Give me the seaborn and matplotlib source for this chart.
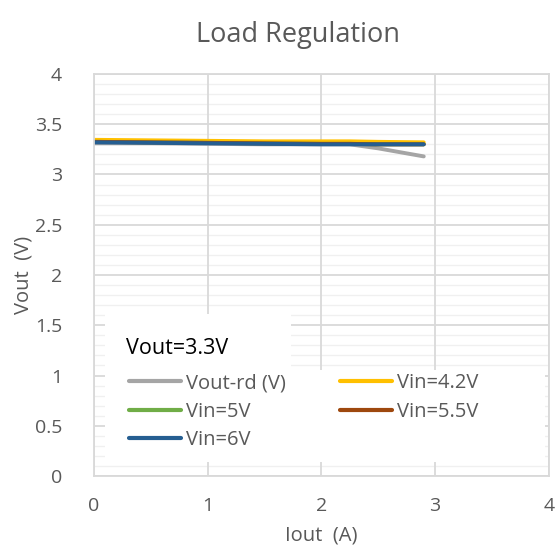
import matplotlib
matplotlib.use("Agg")
import matplotlib.pyplot as plt
import seaborn as sns
import pandas as pd
from matplotlib.ticker import MultipleLocator
from matplotlib.patches import Rectangle

iout = [0, 0.5, 1.0, 1.5, 2.0, 2.25, 2.5, 2.9]
vout_rd = [3.31, 3.31, 3.305, 3.30, 3.30, 3.30, 3.26, 3.18]
vin_42 = [3.345, 3.34, 3.335, 3.33, 3.33, 3.33, 3.325, 3.32]
vin_5 = [3.325, 3.32, 3.315, 3.31, 3.305, 3.305, 3.30, 3.30]
vin_55 = [3.325, 3.32, 3.315, 3.31, 3.305, 3.305, 3.30, 3.30]
vin_6 = [3.32, 3.315, 3.31, 3.305, 3.30, 3.30, 3.30, 3.30]
series_names = ["Vout-rd (V)", "Vin=4.2V", "Vin=5V", "Vin=5.5V", "Vin=6V"]
series_vals = [vout_rd, vin_42, vin_5, vin_55, vin_6]
colors = ["#A5A5A5", "#FFC000", "#70AD47", "#9E480E", "#255E91"]
x_ticks = [0, 1, 2, 3, 4]
y_ticks = [0, 0.5, 1, 1.5, 2, 2.5, 3, 3.5, 4]
y_tick_labels = ["0", "0.5", "1", "1.5", "2", "2.5", "3", "3.5", "4"]

rows = []
for name, vals in zip(series_names, series_vals):
    for x, y in zip(iout, vals):
        rows.append({"Iout": x, "Vout": y, "series": name})
df = pd.DataFrame(rows)

sns.set_theme(style="white")
plt.rcParams["font.family"] = ["Open Sans", "DejaVu Sans"]
txt = "#595959"

fig = plt.figure(figsize=(5.6, 5.55), dpi=100)
ax = fig.add_axes([0.168, 0.1423, 0.812, 0.7244])
sns.lineplot(data=df, x="Iout", y="Vout", hue="series", hue_order=series_names,
             palette=colors, linewidth=2.8, ax=ax, legend=True, sort=False)

ax.set_xlim(0, 4)
ax.set_ylim(0, 4)
ax.set_xticks(x_ticks)
ax.set_xticklabels([str(v) for v in x_ticks])
ax.set_yticks(y_ticks)
ax.set_yticklabels(y_tick_labels)
ax.yaxis.set_minor_locator(MultipleLocator(0.1))
ax.set_axisbelow(True)
ax.grid(True, which="major", color="#D9D9D9", linewidth=1.3)
ax.grid(True, which="minor", axis="y", color="#F0F0F0", linewidth=1.0)
ax.yaxis.set_zorder(0.3)
ax.xaxis.set_zorder(0.4)
for s in ax.spines.values():
    s.set_color("#D9D9D9")
    s.set_linewidth(1.3)
ax.tick_params(axis="both", which="both", length=0, labelsize=14, colors=txt)
ax.tick_params(axis="x", pad=15)
ax.tick_params(axis="y", pad=23)
ax.set_xlabel("Iout  (A)", fontsize=14.5, color=txt, labelpad=8)
ax.set_ylabel("Vout  (V)", fontsize=14.5, color=txt, labelpad=1)
fig.text(0.532, 0.937, "Load Regulation", fontsize=19.5, color=txt, ha="center", va="center")

# white backgrounds for the legend and its heading
ax.add_patch(Rectangle((0.024, 0.035), 0.967, 0.229, transform=ax.transAxes,
                       facecolor="white", edgecolor="none", zorder=4))
ax.add_patch(Rectangle((0.024, 0.262), 0.409, 0.141, transform=ax.transAxes,
                       facecolor="white", edgecolor="none", zorder=4))
ax.text(0.070, 0.316, "Vout=3.3V", transform=ax.transAxes, fontsize=15.5,
        color="black", ha="left", va="center", zorder=6)

handles, labels = ax.get_legend_handles_labels()
hmap = dict(zip(labels, handles))
order = ["Vout-rd (V)", "Vin=5V", "Vin=6V", "Vin=4.2V", "Vin=5.5V"]
leg = ax.legend([hmap[k] for k in order], order, ncol=2, loc="upper left",
                bbox_to_anchor=(0.077, 0.256), frameon=False,
                fontsize=14.5, handlelength=2.6, handletextpad=0.25,
                labelspacing=0.42, columnspacing=2.65, borderaxespad=0, borderpad=0)
leg.set_zorder(7)
for t in leg.get_texts():
    t.set_color(txt)
for h in leg.get_lines():
    h.set_linewidth(3.0)

fig.savefig("out.png", dpi=100)
